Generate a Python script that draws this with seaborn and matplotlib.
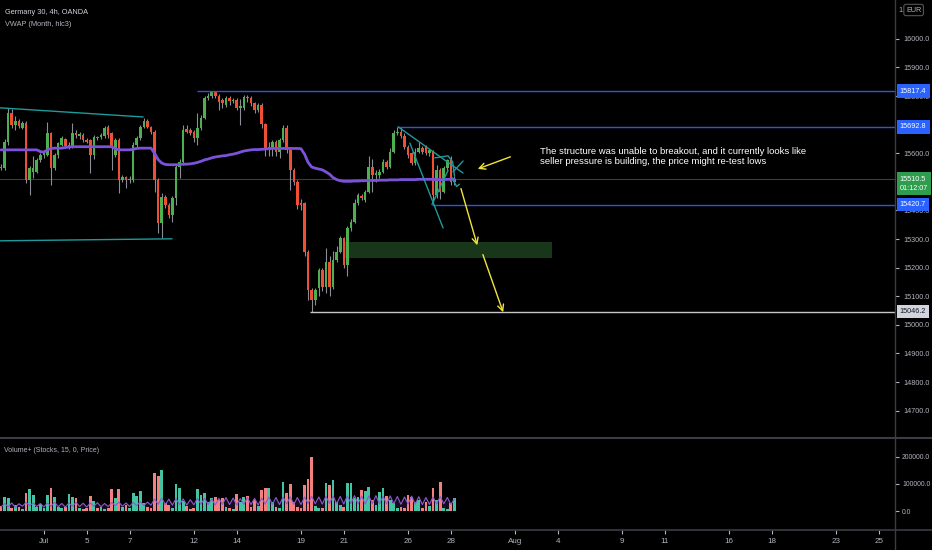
import matplotlib
matplotlib.use("Agg")
import matplotlib.pyplot as plt
from matplotlib.lines import Line2D
from matplotlib.patches import Rectangle
import numpy as np
import pandas as pd
import seaborn as sns

# ---- DAX 4h candles (bar 0 = first bar of Jun 29, 6 bars per day) ----
opens = [15553, 15548, 15641, 15740, 15700, 15712, 15690, 15705, 15507, 15536,
         15536, 15577, 15594, 15594, 15670, 15548, 15594, 15630, 15650, 15626,
         15624, 15672, 15661, 15664, 15647, 15647, 15594, 15658, 15656, 15661,
         15691, 15670, 15594, 15647, 15507, 15516, 15507, 15507, 15629, 15653,
         15693, 15714, 15691, 15676, 15507, 15355, 15448, 15419, 15384, 15443,
         15553, 15569, 15684, 15682, 15676, 15655, 15688, 15723, 15793, 15802,
         15813, 15802, 15786, 15770, 15793, 15783, 15786, 15760, 15757, 15798,
         15793, 15775, 15752, 15769, 15702, 15618, 15618, 15639, 15606, 15647,
         15690, 15612, 15542, 15501, 15425, 15425, 15256, 15122, 15087, 15128,
         15192, 15134, 15221, 15134, 15227, 15256, 15303, 15210, 15338, 15361,
         15425, 15451, 15437, 15466, 15553, 15524, 15524, 15536, 15571, 15553,
         15606, 15670, 15674, 15661, 15623, 15600, 15565, 15606, 15618, 15626,
         15600, 15606, 15454, 15541, 15466, 15548, 15577, 15501]
highs = [15562, 15650, 15757, 15755, 15730, 15720, 15712, 15712, 15555, 15590,
         15585, 15600, 15610, 15711, 15675, 15600, 15640, 15660, 15655, 15640,
         15705, 15680, 15675, 15670, 15652, 15650, 15665, 15662, 15672, 15695,
         15700, 15675, 15652, 15652, 15525, 15522, 15520, 15640, 15660, 15700,
         15725, 15720, 15695, 15680, 15512, 15460, 15455, 15425, 15450, 15560,
         15580, 15700, 15700, 15690, 15680, 15740, 15735, 15800, 15812, 15817,
         15817, 15806, 15792, 15800, 15800, 15795, 15795, 15790, 15805, 15805,
         15800, 15780, 15776, 15775, 15706, 15640, 15645, 15645, 15652, 15700,
         15700, 15618, 15548, 15506, 15440, 15430, 15262, 15128, 15130, 15200,
         15198, 15270, 15240, 15260, 15275, 15310, 15308, 15345, 15370, 15440,
         15460, 15458, 15470, 15590, 15580, 15540, 15545, 15580, 15578, 15620,
         15680, 15693, 15692, 15670, 15630, 15605, 15620, 15640, 15625, 15630,
         15615, 15610, 15560, 15548, 15555, 15580, 15590, 15520]
lows = [15540, 15540, 15630, 15690, 15680, 15690, 15685, 15495, 15455, 15513,
        15530, 15570, 15585, 15590, 15490, 15540, 15585, 15625, 15620, 15615,
        15618, 15655, 15650, 15640, 15635, 15530, 15580, 15645, 15650, 15655,
        15655, 15542, 15588, 15460, 15500, 15478, 15495, 15500, 15620, 15645,
        15688, 15688, 15668, 15466, 15320, 15303, 15410, 15375, 15360, 15420,
        15515, 15560, 15670, 15665, 15640, 15630, 15680, 15720, 15788, 15795,
        15795, 15750, 15760, 15762, 15770, 15775, 15750, 15700, 15750, 15780,
        15765, 15740, 15745, 15690, 15590, 15590, 15590, 15590, 15585, 15640,
        15600, 15470, 15490, 15405, 15400, 15240, 15087, 15046, 15070, 15100,
        15120, 15110, 15100, 15125, 15220, 15250, 15200, 15170, 15330, 15355,
        15418, 15435, 15430, 15460, 15465, 15500, 15515, 15530, 15545, 15548,
        15600, 15665, 15655, 15615, 15585, 15560, 15560, 15600, 15598, 15595,
        15590, 15421, 15445, 15440, 15460, 15540, 15490, 15490]
closes = [15548, 15641, 15740, 15700, 15712, 15695, 15705, 15507, 15548, 15548,
          15577, 15594, 15603, 15670, 15548, 15594, 15635, 15653, 15626, 15630,
          15672, 15664, 15668, 15647, 15641, 15594, 15658, 15653, 15664, 15688,
          15664, 15623, 15647, 15507, 15516, 15507, 15510, 15629, 15653, 15693,
          15714, 15693, 15676, 15507, 15355, 15448, 15419, 15384, 15443, 15553,
          15569, 15682, 15676, 15670, 15655, 15688, 15723, 15793, 15802, 15813,
          15802, 15781, 15775, 15793, 15783, 15786, 15757, 15765, 15798, 15793,
          15775, 15752, 15769, 15702, 15618, 15623, 15639, 15606, 15647, 15690,
          15612, 15542, 15501, 15420, 15420, 15256, 15122, 15087, 15122, 15192,
          15134, 15221, 15134, 15227, 15256, 15303, 15210, 15338, 15361, 15425,
          15454, 15443, 15466, 15553, 15524, 15530, 15536, 15571, 15553, 15606,
          15670, 15676, 15661, 15623, 15594, 15565, 15606, 15618, 15606, 15600,
          15610, 15454, 15541, 15466, 15548, 15577, 15501, 15510.5]

# VWAP (Month, hlc3)
vwap = [15612, 15612, 15612, 15612, 15612, 15612, 15612, 15612, 15612, 15612,
        15612, 15606, 15604, 15612, 15617, 15618, 15618, 15618, 15620, 15622,
        15623, 15623, 15623, 15623, 15623, 15623, 15623, 15623, 15623, 15623,
        15623, 15623, 15616, 15612, 15612, 15612, 15612, 15614, 15617, 15618,
        15618, 15618, 15618, 15600, 15578, 15566, 15561, 15560, 15560, 15560,
        15561, 15562, 15562, 15563, 15565, 15568, 15572, 15577, 15580, 15584,
        15587, 15589, 15591, 15592, 15595, 15597, 15600, 15604, 15608, 15610,
        15612, 15613, 15613, 15614, 15615, 15616, 15617, 15617, 15617, 15617,
        15617, 15617, 15617, 15617, 15616, 15597, 15568, 15552, 15548, 15545,
        15542, 15535, 15527, 15515, 15508, 15504, 15502, 15502, 15502, 15503,
        15503, 15504, 15504, 15505, 15505, 15505, 15506, 15506, 15506, 15507,
        15507, 15507, 15508, 15508, 15508, 15508, 15508, 15509, 15509, 15509,
        15509, 15509, 15508, 15508, 15508, 15509, 15509, 15509]

# Volume+ (Stocks, 15, 0, Price)
volume = [20000, 53000, 47000, 12000, 22000, 15000, 8000, 65000, 80000, 59000,
          15000, 25000, 12000, 59000, 84000, 53000, 15000, 10000, 14000, 63000,
          53000, 47000, 12000, 8000, 10000, 56000, 37000, 10000, 15000, 8000,
          12000, 80000, 47000, 80000, 15000, 22000, 10000, 65000, 56000, 74000,
          28000, 14000, 10000, 140000, 130000, 152000, 28000, 22000, 10000, 99000,
          84000, 37000, 18000, 8000, 12000, 80000, 59000, 65000, 35000, 47000,
          53000, 40000, 47000, 15000, 10000, 8000, 62000, 35000, 53000, 56000,
          16000, 40000, 20000, 78000, 84000, 84000, 35000, 16000, 10000, 106000,
          65000, 100000, 35000, 16000, 10000, 96000, 117000, 200000, 18000, 10000,
          12000, 102000, 96000, 115000, 35000, 22000, 14000, 105000, 102000, 47000,
          53000, 78000, 75000, 88000, 40000, 22000, 72000, 84000, 56000, 40000,
          28000, 10000, 15000, 12000, 59000, 53000, 35000, 40000, 10000, 35000,
          20000, 86000, 40000, 108000, 12000, 8000, 30000, 47000]
volume_ma = [15000, 28000, 16000, 30000, 14000, 27000, 18000, 32000, 20000, 30000,
             17000, 28000, 15000, 30000, 18000, 33000, 16000, 28000, 15000, 30000,
             18000, 32000, 17000, 29000, 15000, 30000, 18000, 31000, 16000, 28000,
             17000, 32000, 20000, 33000, 18000, 30000, 17000, 32000, 20000, 35000,
             20000, 33000, 22000, 45000, 25000, 48000, 24000, 44000, 22000, 46000,
             24000, 45000, 22000, 42000, 23000, 47000, 25000, 48000, 24000, 45000,
             22000, 47000, 25000, 50000, 24000, 48000, 22000, 46000, 25000, 50000,
             24000, 47000, 22000, 48000, 26000, 52000, 25000, 50000, 24000, 52000,
             26000, 53000, 25000, 50000, 24000, 52000, 28000, 55000, 27000, 52000,
             26000, 55000, 28000, 56000, 27000, 54000, 26000, 56000, 28000, 57000,
             27000, 55000, 26000, 56000, 28000, 57000, 27000, 55000, 26000, 56000,
             27000, 54000, 25000, 52000, 26000, 55000, 25000, 53000, 24000, 50000,
             25000, 52000, 26000, 54000, 27000, 50000, 25000, 45000]

tick_dates = ["2021-07-01", "2021-07-05", "2021-07-07", "2021-07-12", "2021-07-14",
              "2021-07-19", "2021-07-21", "2021-07-26", "2021-07-28", "2021-08-02",
              "2021-08-04", "2021-08-09", "2021-08-11", "2021-08-16", "2021-08-18",
              "2021-08-23", "2021-08-25"]
tick_labels = ["Jul", "5", "7", "12", "14", "19", "21", "26", "28", "Aug",
               "4", "9", "11", "16", "18", "23", "25"]

# drawings on the chart, as (bar, price)
level_high = 15817.4
level_mid = 15692.8
level_low = 15420.7
level_bottom = 15046.2
last_price = 15510.5
level_starts = [54.9, 111.2, 120.7, 86.5]
channel_top = [(-0.3, 15759), (39.8, 15727)]
channel_bottom = [(-0.3, 15294), (47.9, 15301)]
wedge_lines = [
    [(111.2, 15692.8), (129.4, 15531)],
    [(114.5, 15636), (123.8, 15339)],
    [(120.7, 15421), (125.2, 15540)],
    [(121.5, 15584), (125.2, 15591), (126.5, 15570), (127.0, 15520)],
    [(126.6, 15535), (129.4, 15573)],
    [(126.3, 15515), (127.6, 15484), (128.4, 15492)],
]
zone_bars = (96.3, 154.3)
zone_prices = (15233, 15290)
arrows = [
    [(128.6, 15486), (133.6, 15269)],
    [(134.7, 15255), (140.9, 15035)],
    [(143.4, 15591), (132.8, 15542)],
]
note = ["The structure was unable to breakout, and it currently looks like",
        "seller pressure is building, the price might re-test lows"]

# ---- style ----
UP, DOWN, WICK = "#4caf50", "#ef5035", "#8a8d95"
VUP, VDOWN = "#45c4a4", "#f37f7f"
PURPLE, TEAL, BLUE, YELLOW = "#7b52d9", "#1f9a9c", "#2f55e0", "#f2e53c"
TXT, SEP = "#b2b5be", "#3a3d45"
AXIS_FS = 5.2

sns.set_theme(style="dark", rc={"axes.facecolor": "black", "figure.facecolor": "black"})
plt.rcParams["font.family"] = ["Liberation Sans", "DejaVu Sans"]

W, H = 932, 550
fig = plt.figure(figsize=(W / 100, H / 100), dpi=100)


def fx(px):
    return px / W


def fy(py):
    return 1 - py / H


ax = fig.add_axes([0, fy(437), fx(895), 437 / H])
vax = fig.add_axes([0, fy(530), fx(895), (530 - 438) / H])

idx = np.arange(len(closes))
o, h, l, c = (np.array(a, dtype=float) for a in (opens, highs, lows, closes))
up = c >= o

# candles
ax.vlines(idx, l, h, color=WICK, lw=0.8, zorder=3)
ax.bar(idx, np.maximum(np.abs(c - o), 3), bottom=np.minimum(o, c), width=0.72,
       color=np.where(up, UP, DOWN), linewidth=0, zorder=4)
sns.lineplot(x=idx, y=vwap, ax=ax, color=PURPLE, lw=2, zorder=5)

# levels and drawings
ax.axhline(last_price, color=SEP, lw=0.8, zorder=1)
for lvl, start, col in zip([level_high, level_mid, level_low, level_bottom], level_starts,
                           [BLUE, BLUE, BLUE, "#c8c8c8"]):
    ax.hlines(lvl, start, 260, color=col, lw=1, zorder=6)
for seg in [channel_top, channel_bottom] + wedge_lines:
    xs, ys = zip(*seg)
    ax.plot(xs, ys, color=TEAL, lw=1, zorder=6)
ax.add_patch(Rectangle((zone_bars[0], zone_prices[0]), zone_bars[1] - zone_bars[0],
                       zone_prices[1] - zone_prices[0], fc="#18361a", ec="none", zorder=2))
for start, end in arrows:
    ax.annotate("", xy=end, xytext=start,
                arrowprops=dict(arrowstyle="->", color=YELLOW, lw=1, mutation_scale=11), zorder=7)

ax.set_xlim(-0.3, 250.4)
ax.set_ylim(14608, 16136)
ax.set_xticks([])
# 15500 and 15700 sit fully under the price tags on the scale
yt = [v for v in range(14700, 16001, 100) if v not in (15500, 15700)]
ax.set_yticks(yt)
ax.set_yticklabels([f"{v:.1f}" for v in yt])
ax.tick_params(axis="y", left=False, labelleft=False, right=True, labelright=True,
               colors=TXT, labelsize=AXIS_FS, length=3, width=0.8, pad=3)
ax.set_xlabel("")
ax.set_ylabel("")
ax.grid(False)
for s in ax.spines.values():
    s.set_visible(False)


def price_tag(price, text, fc, tc, dy=0):
    ax.annotate(text, xy=(1, price), xycoords=ax.get_yaxis_transform(), xytext=(3.5, dy),
                textcoords="offset points", ha="left", va="center", fontsize=AXIS_FS, color=tc,
                linespacing=1.5, bbox=dict(boxstyle="square,pad=0.45", fc=fc, ec="none"),
                annotation_clip=False, zorder=10)


price_tag(level_high, f"{level_high:.1f}", "#2962ff", "white")
price_tag(level_mid, f"{level_mid:.1f}", "#2962ff", "white")
price_tag(level_low, f"{level_low:.1f}", "#2962ff", "white")
price_tag(last_price, f"{last_price:.1f}\n01:12:07", "#2e9d4e", "white", dy=-3.5)
price_tag(level_bottom, f"{level_bottom:.1f}", "#d1d4dc", "#131722")

# volume pane
vax.bar(idx, volume, width=0.78, color=np.where(up, VUP, VDOWN), linewidth=0, zorder=3)
vax.fill_between(idx, 0, volume_ma, color="#6a3d9a", alpha=0.2, lw=0, zorder=2)
sns.lineplot(x=idx, y=volume_ma, ax=vax, color="#8e5bd0", lw=0.8, zorder=4)
vax.set_xlim(-0.3, 250.4)
vax.set_ylim(-70000, 270000)
vax.set_yticks([0, 100000, 200000])
vax.set_yticklabels(["0.0", "100000.0", "200000.0"])
days = pd.bdate_range("2021-06-29", "2021-08-31")
bar_of_day = {d: k * 6 for k, d in enumerate(days)}
vax.set_xticks([bar_of_day[pd.Timestamp(d)] for d in tick_dates])
vax.set_xticklabels(tick_labels)
vax.tick_params(axis="y", left=False, labelleft=False, right=True, labelright=True,
                colors=TXT, labelsize=4.9, length=3, width=0.8, pad=2)
vax.tick_params(axis="x", bottom=True, colors=TXT, labelsize=5.8, length=3, width=0.8, pad=3)
vax.set_xlabel("")
vax.set_ylabel("")
vax.grid(False)
for s in vax.spines.values():
    s.set_visible(False)

# pane separators and price scale border
fig.add_artist(Line2D([0, 1], [fy(437.5), fy(437.5)], color=SEP, lw=1.5))
fig.add_artist(Line2D([0, 1], [fy(530), fy(530)], color=SEP, lw=1.2))
fig.add_artist(Line2D([fx(895), fx(895)], [0, 1], color=SEP, lw=1))

# texts
fig.text(fx(5), fy(12), "Germany 30, 4h, OANDA", color="#d1d4dc", fontsize=5.3, va="center")
fig.text(fx(5), fy(24), "VWAP (Month, hlc3)", color=TXT, fontsize=5.3, va="center")
fig.text(fx(4), fy(450), "Volume+ (Stocks, 15, 0, Price)", color=TXT, fontsize=5, va="center")
fig.text(fx(540), fy(151), note[0], color="white", fontsize=6.8, va="center")
fig.text(fx(540), fy(162), note[1], color="white", fontsize=6.8, va="center")
fig.text(fx(898), fy(10), "1", color=TXT, fontsize=AXIS_FS, va="center")
fig.text(fx(906), fy(10), "EUR", color=TXT, fontsize=AXIS_FS, va="center",
         bbox=dict(boxstyle="round,pad=0.3", fc="black", ec="#555555", lw=0.8))

fig.savefig("out.png", dpi=100, facecolor="black")
